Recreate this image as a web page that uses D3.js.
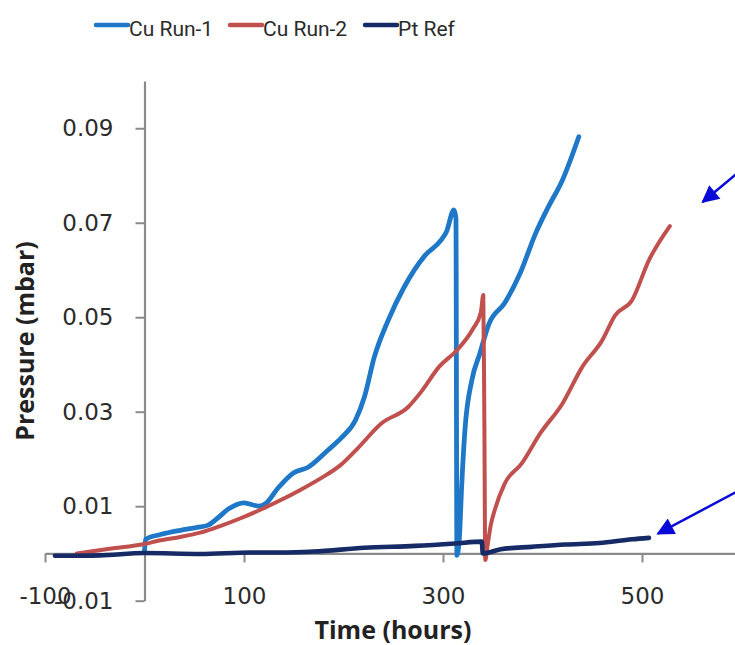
<!DOCTYPE html>
<html>
<head>
<meta charset="utf-8">
<script src="https://cdn.jsdelivr.net/npm/d3@7"></script>
<style>
    body { margin: 0; background: #fff; }
    svg { display: block; }
</style>
</head>
<body>
<div class="chart-container"></div>
<script>
// Data: [hours, mbar]
const cuRun1 = [
    [0, 0.0005], [1, 0.003], [16, 0.004], [36, 0.0049], [53, 0.0055], [64, 0.006],
    [73, 0.0074], [85, 0.0095], [100, 0.0107], [115, 0.0100], [122, 0.0106],
    [134, 0.0138], [150, 0.0171], [164, 0.0182], [184, 0.0218], [198, 0.0245],
    [212, 0.0282], [221, 0.0331], [231, 0.0416], [245, 0.0494], [261, 0.0564],
    [282, 0.0631], [298, 0.0663], [303.5, 0.0681], [311, 0.0727], [313, 0.071],
    [314, -0.0004], [316.5, 0.0035], [318.7, 0.014], [322, 0.026], [329, 0.0367],
    [337, 0.0423], [346, 0.0485], [362, 0.053], [377.5, 0.0593], [393, 0.0677],
    [406, 0.0734], [420, 0.079], [436.5, 0.0882]
];

const cuRun2 = [
    [-68, 0.0], [-35, 0.001], [0, 0.002], [16, 0.0028], [36, 0.0035], [56, 0.0044],
    [76, 0.0058], [96, 0.0074], [117, 0.0093], [137, 0.0113], [157, 0.0135],
    [177, 0.0159], [197, 0.0187], [214, 0.0222], [238, 0.0275], [265, 0.031],
    [278, 0.0342], [296, 0.0395], [314, 0.043], [330, 0.0475], [338, 0.051],
    [340.5, 0.0547], [341.5, 0.03], [342.5, -0.0014], [345, 0.002], [348, 0.006],
    [352, 0.0092], [362, 0.0148], [379, 0.019], [398, 0.0255], [420, 0.0317],
    [440, 0.0395], [460, 0.0451], [473, 0.0504], [490, 0.0536], [507, 0.0621],
    [528, 0.0693]
];

const ptRef = [
    [-90, -0.0005], [-45, -0.0004], [0, 0.0001], [56, -0.0001], [107, 0.0002],
    [137, 0.0002], [170, 0.0004], [221, 0.0012], [272, 0.0016], [312, 0.0021],
    [339, 0.0025], [340, 0.0], [358, 0.0009], [389, 0.0014], [423, 0.0019],
    [457, 0.0022], [490, 0.003], [507, 0.0033]
];

const seriesNames = ['Cu Run-1', 'Cu Run-2', 'Pt Ref'];
const seriesColors = ['#1f77c7', '#c0504d', '#162a66'];
const xTicks = [-100, 100, 300, 500];
const yTicks = [-0.01, 0.01, 0.03, 0.05, 0.07, 0.09];

// annotation arrows, [from, to] in data units
const arrows = [
    [[600, 0.0812], [561, 0.0744]],
    [[600, 0.0136], [516, 0.0042]]
];

const width = 735;
const height = 645;

const svg = d3.select('.chart-container')
    .append('svg')
    .attr('width', width)
    .attr('height', height);

const x = d3.scaleLinear().domain([-100, 700]).range([45, 841]);
const y = d3.scaleLinear().domain([-0.01, 0.1]).range([600.7, 81]);

// Axes
const axisColor = '#8a8a8a';

const yAxis = svg.append('g')
    .attr('transform', `translate(${x(0)},0)`)
    .call(d3.axisLeft(y)
        .tickValues(yTicks)
        .tickSize(9)
        .tickSizeOuter(0)
        .tickPadding(22)
        .tickFormat(d => d.toFixed(2)));

const xAxis = svg.append('g')
    .attr('transform', `translate(0,${y(0)})`)
    .call(d3.axisBottom(x)
        .tickValues(xTicks)
        .tickSize(9)
        .tickSizeOuter(0)
        .tickPadding(25)
        .tickFormat(d => String(d)));

[xAxis, yAxis].forEach(g => {
    g.select('.domain').attr('stroke', axisColor).attr('stroke-width', 2.2);
    g.selectAll('.tick line').attr('stroke', axisColor).attr('stroke-width', 2);
    g.selectAll('.tick text')
        .attr('fill', '#2b2b2b')
        .style('font-family', '"DejaVu Sans", sans-serif')
        .style('font-size', '23px');
});

// Lines
const line = d3.line()
    .x(d => x(d[0]))
    .y(d => y(d[1]))
    .curve(d3.curveMonotoneX);

const allSeries = [cuRun1, cuRun2, ptRef];
const lineWidths = [4.8, 4, 4.6];

svg.append('g')
    .selectAll('path')
    .data(allSeries)
    .enter()
    .append('path')
    .attr('d', line)
    .attr('fill', 'none')
    .attr('stroke', (d, i) => seriesColors[i])
    .attr('stroke-width', (d, i) => lineWidths[i])
    .attr('stroke-linejoin', 'round')
    .attr('stroke-linecap', 'round');

// Axis titles
svg.append('text')
    .attr('transform', `translate(34,341) rotate(-90)`)
    .attr('text-anchor', 'middle')
    .style('font-family', '"Open Sans", sans-serif')
    .style('font-weight', 'bold')
    .style('font-size', '25px')
    .attr('fill', '#222')
    .text('Pressure (mbar)');

svg.append('text')
    .attr('x', 393)
    .attr('y', 639)
    .attr('text-anchor', 'middle')
    .style('font-family', '"Open Sans", sans-serif')
    .style('font-weight', 'bold')
    .style('font-size', '25px')
    .attr('fill', '#222')
    .text('Time (hours)');

// Legend
const legendX = [96, 230, 365];
const legend = svg.append('g')
    .selectAll('g')
    .data(seriesNames)
    .enter()
    .append('g')
    .attr('transform', (d, i) => `translate(${legendX[i]},0)`);

legend.append('line')
    .attr('x1', 0)
    .attr('x2', 32)
    .attr('y1', 25)
    .attr('y2', 25)
    .attr('stroke', (d, i) => seriesColors[i])
    .attr('stroke-width', 4.5)
    .attr('stroke-linecap', 'round');

legend.append('text')
    .attr('x', 33)
    .attr('y', 35.5)
    .style('font-family', 'Roboto, sans-serif')
    .style('font-size', '21px')
    .attr('fill', '#2b2b2b')
    .text(d => d);

// Arrows
svg.append('defs')
    .append('marker')
    .attr('id', 'head')
    .attr('viewBox', '0 0 10 10')
    .attr('refX', 9)
    .attr('refY', 5)
    .attr('markerWidth', 8)
    .attr('markerHeight', 7)
    .attr('markerUnits', 'strokeWidth')
    .attr('orient', 'auto')
    .append('path')
    .attr('d', 'M0,0 L10,5 L0,10 z')
    .attr('fill', '#0a0ad8');

svg.append('g')
    .selectAll('line')
    .data(arrows)
    .enter()
    .append('line')
    .attr('x1', d => x(d[0][0]))
    .attr('y1', d => y(d[0][1]))
    .attr('x2', d => x(d[1][0]))
    .attr('y2', d => y(d[1][1]))
    .attr('stroke', '#0a0ad8')
    .attr('stroke-width', 2.5)
    .attr('marker-end', 'url(#head)');
</script>
</body>
</html>
